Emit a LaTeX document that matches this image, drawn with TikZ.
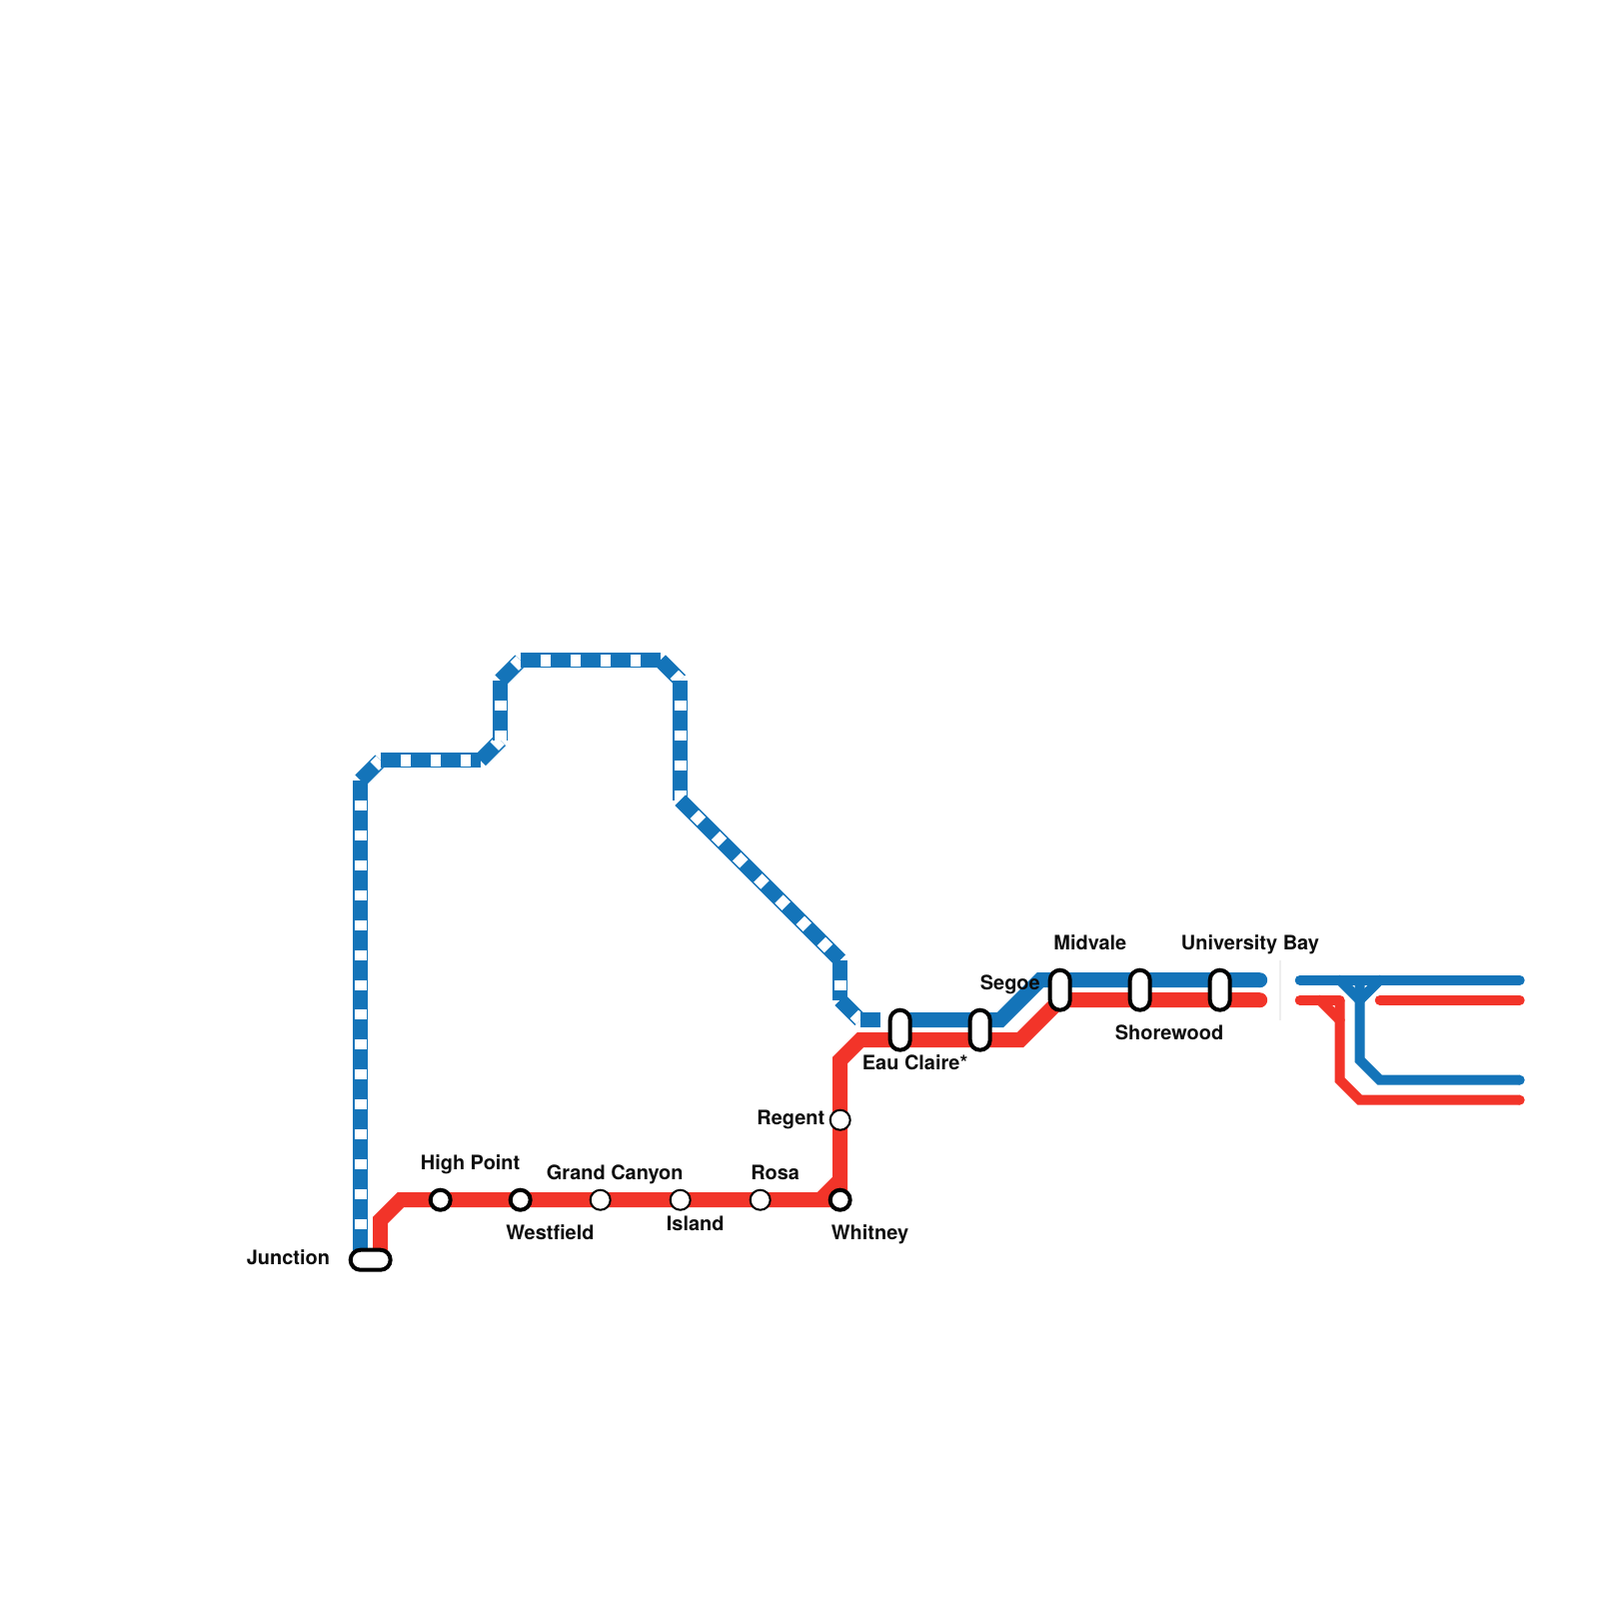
\documentclass[tikz,border=0pt]{standalone}
\usepackage{fontspec}
\setmainfont{TeX Gyre Heros}
\usepackage{xcolor}
\definecolor{LineBlue}{HTML}{1474B9}
\definecolor{LineRed}{HTML}{F23429}
\definecolor{DividerGray}{HTML}{EEEEEE}
\tikzset{
    blue_solid/.style={draw=LineBlue, line width=1.5mm},
    red_solid/.style={draw=LineRed, line width=1.5mm},
    blue_dash/.style={blue_solid, postaction={draw=white, line width=1.2mm, dash pattern=on 1mm off 2mm, dash phase=1mm}},
    blue_thin/.style={draw=LineBlue, line width=1mm, line cap=round},
    red_thin/.style={draw=LineRed, line width=1mm, line cap=round},
    stop_thick/.style={circle, draw=black, fill=white, line width=0.4mm, minimum size=2mm, inner sep=0pt},
    stop_thin/.style={circle, draw=black, fill=white, line width=0.2mm, minimum size=2mm, inner sep=0pt},
    pill_h/.style={rectangle, rounded corners=1mm, draw=black, fill=white, line width=0.4mm, minimum width=4mm, minimum height=2mm, inner sep=0pt},
    pill_v/.style={rectangle, rounded corners=1mm, draw=black, fill=white, line width=0.4mm, minimum width=2mm, minimum height=4mm, inner sep=0pt},
    stop_label/.style={anchor=base west, inner sep=0pt, font=\fontsize{5.68pt}{6.5pt}\selectfont\bfseries, text=black!95},
}
\begin{document}
\begin{tikzpicture}[x=0.28375bp, y=-0.28375bp]
    \useasboundingbox (-0.7,-0.7) rectangle (1599.3,1599.3);

    % Blue dashed section
    \draw[blue_dash] (360,780) -- (360,1260);
    \draw[blue_dash] (360,780) -- (380,760);
    \draw[blue_dash] (380,760) -- (480,760);
    \draw[blue_dash] (480,760) -- (500,740);
    \draw[blue_dash] (500,680) -- (500,740);
    \draw[blue_dash] (500,680) -- (520,660);
    \draw[blue_dash] (520,660) -- (660,660);
    \draw[blue_dash] (660,660) -- (680,680);
    \draw[blue_dash] (680,680) -- (680,800);
    \draw[blue_dash] (680,800) -- (840,960);
    \draw[blue_dash] (840,960) -- (840,1000);
    \draw[blue_dash] (840,1000) -- (860,1020);
    \draw[blue_solid] (860,1020) -- (880,1020);

    % Blue solid section
    \draw[blue_solid] (900,1020) -- (1000,1020) -- (1040,980) -- (1260,980);
    \fill[LineBlue] (1260,980) circle[radius=7.5];

    % Red line
    \draw[red_solid] (380,1260) -- (380,1220) -- (400,1200) -- (840,1200);
    \draw[red_solid] (820,1200) -- (840,1180);
    \draw[red_solid] (840,1200) -- (840,1060) -- (860,1040) -- (1020,1040) -- (1060,1000) -- (1260,1000);
    \fill[LineRed] (1260,1000) circle[radius=7.5];

    % Divider
    \draw[DividerGray, line width=0.2mm] (1280,960) -- (1280,1020);

    % Right side key
    \draw[blue_thin] (1300,980) -- (1520,980);
    \draw[blue_thin] (1340,980) -- (1360,1000);
    \draw[blue_thin] (1380,980) -- (1360,1000);
    \draw[blue_thin, line cap=butt] (1360,980) -- (1360,1060) -- (1380,1080) -- (1520,1080);
    \fill[LineBlue] (1520,1080) circle[radius=5];
    \draw[red_thin] (1300,1000) -- (1340,1000);
    \draw[red_thin] (1320,1000) -- (1340,1020);
    \draw[red_thin, line cap=butt] (1340,1000) -- (1340,1080) -- (1360,1100) -- (1520,1100);
    \fill[LineRed] (1520,1100) circle[radius=5];
    \draw[red_thin] (1380,1000) -- (1520,1000);

    % Stations
    \node[pill_h] (junction) at (370,1260) {};
    \node[stop_thick] (highpoint) at (440,1200) {};
    \node[stop_thick] (westfield) at (520,1200) {};
    \node[stop_thin] (grandcanyon) at (600,1200) {};
    \node[stop_thin] (island) at (680,1200) {};
    \node[stop_thin] (rosa) at (760,1200) {};
    \node[stop_thick] (whitney) at (840,1200) {};
    \node[stop_thin] (regent) at (840,1120) {};
    \node[pill_v] (eauclaire) at (900,1030) {};
    \node[pill_v] (segoe) at (980,1030) {};
    \node[pill_v] (midvale) at (1060,990) {};
    \node[pill_v] (shorewood) at (1140,990) {};
    \node[pill_v] (universitybay) at (1220,990) {};

    % Labels
    \node[stop_label] (junction_label) at (245.5,1265) {Junction};
    \node[stop_label] (highpoint_label) at (419.5,1170) {High Point};
    \node[stop_label] (westfield_label) at (505,1240) {Westfield};
    \node[stop_label] (grandcanyon_label) at (545.5,1180) {Grand Canyon};
    \node[stop_label] (island_label) at (665.5,1231) {Island};
    \node[stop_label] (rosa_label) at (750,1180) {Rosa};
    \node[stop_label] (whitney_label) at (830.5,1240) {Whitney};
    \node[stop_label] (regent_label) at (756,1125) {Regent};
    \node[stop_label] (eauclaire_label) at (861.5,1070) {Eau Claire*};
    \node[stop_label] (segoe_label) at (979.5,990) {Segoe};
    \node[stop_label] (midvale_label) at (1053,950) {Midvale};
    \node[stop_label] (shorewood_label) at (1114.5,1040) {Shorewood};
    \node[stop_label] (universitybay_label) at (1180.5,950) {University Bay};
\end{tikzpicture}
\end{document}
